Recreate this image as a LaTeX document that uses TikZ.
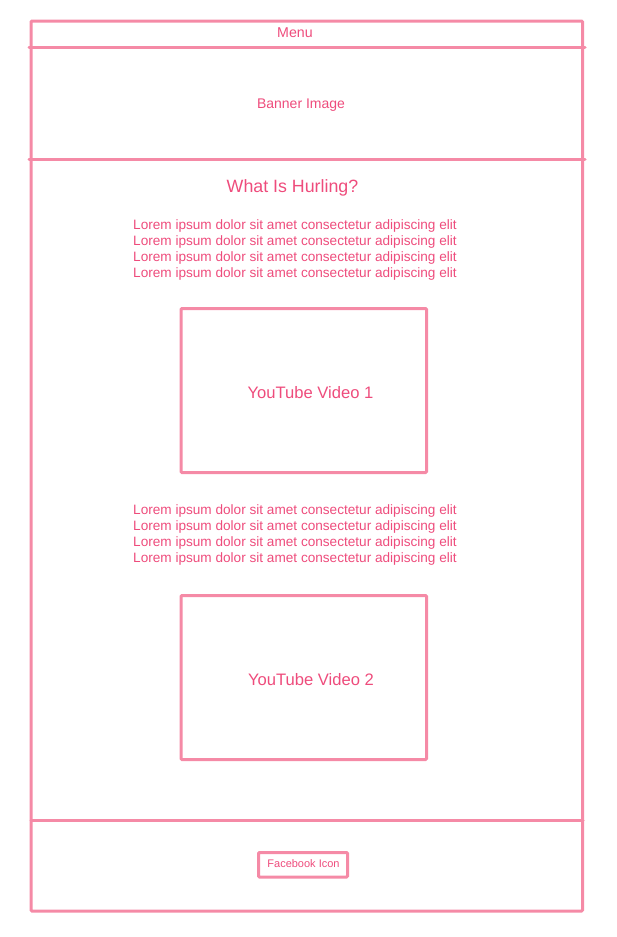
\documentclass[tikz,border=0pt]{standalone}
\usepackage{fontspec}
\setmainfont{Liberation Sans}
\definecolor{sk}{HTML}{F58AA6}
\definecolor{tx}{HTML}{EE4C7C}
\begin{document}
\begin{tikzpicture}[x=1pt,y=-1pt,
  frame/.style={draw=sk,line width=3pt,line cap=round,line join=round},
  box/.style={draw=sk,line width=3pt,rounded corners=1pt,inner sep=0pt,outer sep=0pt,anchor=north west},
  lbl/.style={text=tx,inner sep=0pt},
  lorem/.style={text=tx,inner sep=0pt,align=center,font=\fontsize{13.6}{16}\selectfont}]
\useasboundingbox (0,0) rectangle (616,937);
% outer frame
\node[box,minimum width=551.5pt,minimum height=890pt] (page) at (31,21) {};
% dividers
\coordinate (m1) at (29,47.5); \coordinate (m2) at (585,47.5);
\coordinate (b1) at (29,159.5); \coordinate (b2) at (585,159.5);
\coordinate (f1) at (31,820.5); \coordinate (f2) at (583,820.5);
\draw[frame] (m1) -- (m2);
\draw[frame] (b1) -- (b2);
\draw[frame] (f1) -- (f2);
% texts
\node[lbl,font=\fontsize{14.2}{16}\selectfont] (menu) at (295,32.5) {Menu};
\node[lbl,font=\fontsize{14}{16}\selectfont] (banner) at (301,105) {Banner Image};
\node[lbl,font=\fontsize{17.8}{20}\selectfont] (title) at (292.5,188) {What Is Hurling?};
\node[lorem] (lorem1) at (295,250) {Lorem ipsum dolor sit amet consectetur adipiscing elit\\Lorem ipsum dolor sit amet consectetur adipiscing elit\\Lorem ipsum dolor sit amet consectetur adipiscing elit\\Lorem ipsum dolor sit amet consectetur adipiscing elit};
\node[box,minimum width=245.5pt,minimum height=164pt] (vid1) at (181,308.5) {};
\node[lbl,font=\fontsize{16.6}{18}\selectfont] (vid1t) at (310.5,392.5) {YouTube Video 1};
\node[lorem] (lorem2) at (295,535) {Lorem ipsum dolor sit amet consectetur adipiscing elit\\Lorem ipsum dolor sit amet consectetur adipiscing elit\\Lorem ipsum dolor sit amet consectetur adipiscing elit\\Lorem ipsum dolor sit amet consectetur adipiscing elit};
\node[box,minimum width=245.5pt,minimum height=164pt] (vid2) at (181,595.5) {};
\node[lbl,font=\fontsize{16.6}{18}\selectfont] (vid2t) at (311,680) {YouTube Video 2};
\node[box,minimum width=89pt,minimum height=24.5pt] (fb) at (258.5,852.5) {};
\node[lbl,font=\fontsize{11}{13}\selectfont] (fbt) at (303.5,864) {Facebook Icon};
\end{tikzpicture}
\end{document}
